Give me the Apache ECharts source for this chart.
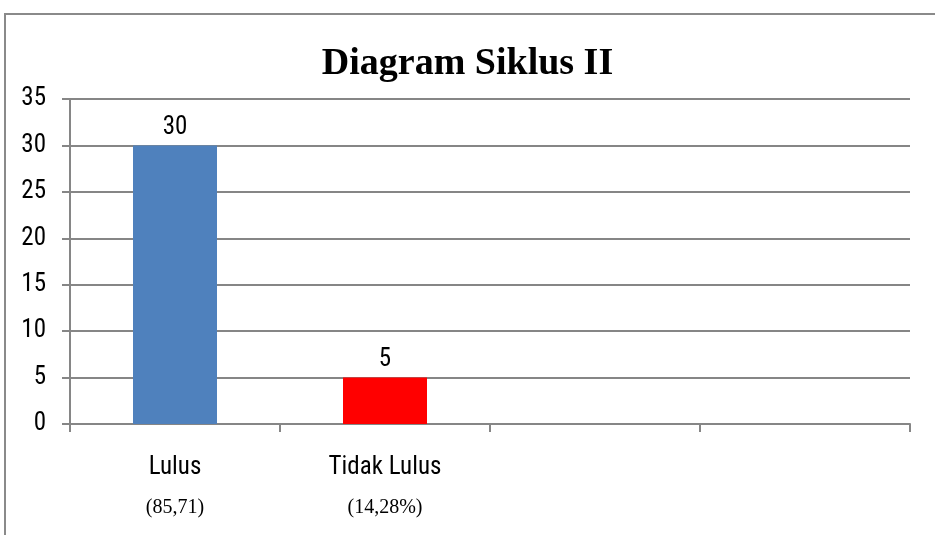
<!DOCTYPE html>
<html>
<head>
<meta charset="utf-8">
<script src="https://cdn.jsdelivr.net/npm/echarts@6/dist/echarts.min.js"></script>
<style>
html,body{margin:0;padding:0;background:#fff;}
#chart{width:935px;height:535px;}
</style>
</head>
<body>
<div id="chart"></div>
<script>
// data
var categories = ['Lulus', 'Tidak Lulus', '', ''];
var percents = ['(85,71)', '(14,28%)', '', ''];
var values = [30, 5, null, null];
var barColors = ['#4F81BD', '#FF0000', '#4F81BD', '#4F81BD'];
var yTicks = [0, 5, 10, 15, 20, 25, 30, 35];

var narrow = '"Liberation Sans Narrow", "Arial Narrow", "Roboto Condensed", sans-serif';
var serif = '"Liberation Serif", "Times New Roman", serif';

var myChart = echarts.init(document.getElementById('chart'));

// bars with their own colour
var barData = [];
for (var i = 0; i < values.length; i++) {
	barData.push({value: values[i], itemStyle: {color: barColors[i]}});
}

var option = {
	animation: false,
	backgroundColor: '#fff',
	title: {
		text: 'Diagram Siklus II',
		left: 'center',
		top: 40,
		textStyle: {fontFamily: serif, fontWeight: 'bold', fontSize: 38, color: '#000'}
	},
	graphic: [{
		type: 'rect',
		shape: {x: 5, y: 14, width: 950, height: 560},
		style: {fill: null, stroke: '#8a8a8a', lineWidth: 2},
		silent: true
	}],
	grid: {left: 70, right: 25, top: 99, bottom: 111},
	xAxis: {
		type: 'category',
		data: categories,
		axisLine: {lineStyle: {color: '#868686', width: 2}},
		axisTick: {show: true, alignWithLabel: false, length: 8, lineStyle: {color: '#868686', width: 2}},
		axisLabel: {
			margin: 24,
			interval: 0,
			formatter: function (v, idx) {
				if (!v) return '';
				return '{n|' + v + '}\n{p|' + percents[idx] + '}';
			},
			rich: {
				n: {fontFamily: narrow, fontSize: 25, color: '#000', lineHeight: 40},
				p: {fontFamily: serif, fontSize: 20, color: '#000', lineHeight: 40}
			}
		}
	},
	yAxis: {
		type: 'value',
		min: yTicks[0],
		max: yTicks[yTicks.length - 1],
		interval: 5,
		axisLine: {show: true, lineStyle: {color: '#868686', width: 2}},
		axisTick: {show: true, length: 8, lineStyle: {color: '#868686', width: 2}},
		splitLine: {lineStyle: {color: '#868686', width: 2}},
		axisLabel: {margin: 24, fontFamily: narrow, fontSize: 25, color: '#000'}
	},
	series: [{
		type: 'bar',
		data: barData,
		barWidth: '40%',
		label: {
			show: true,
			position: 'top',
			distance: 5,
			fontFamily: narrow,
			fontSize: 25,
			color: '#000'
		}
	}]
};
myChart.setOption(option);
</script>
</body>
</html>
